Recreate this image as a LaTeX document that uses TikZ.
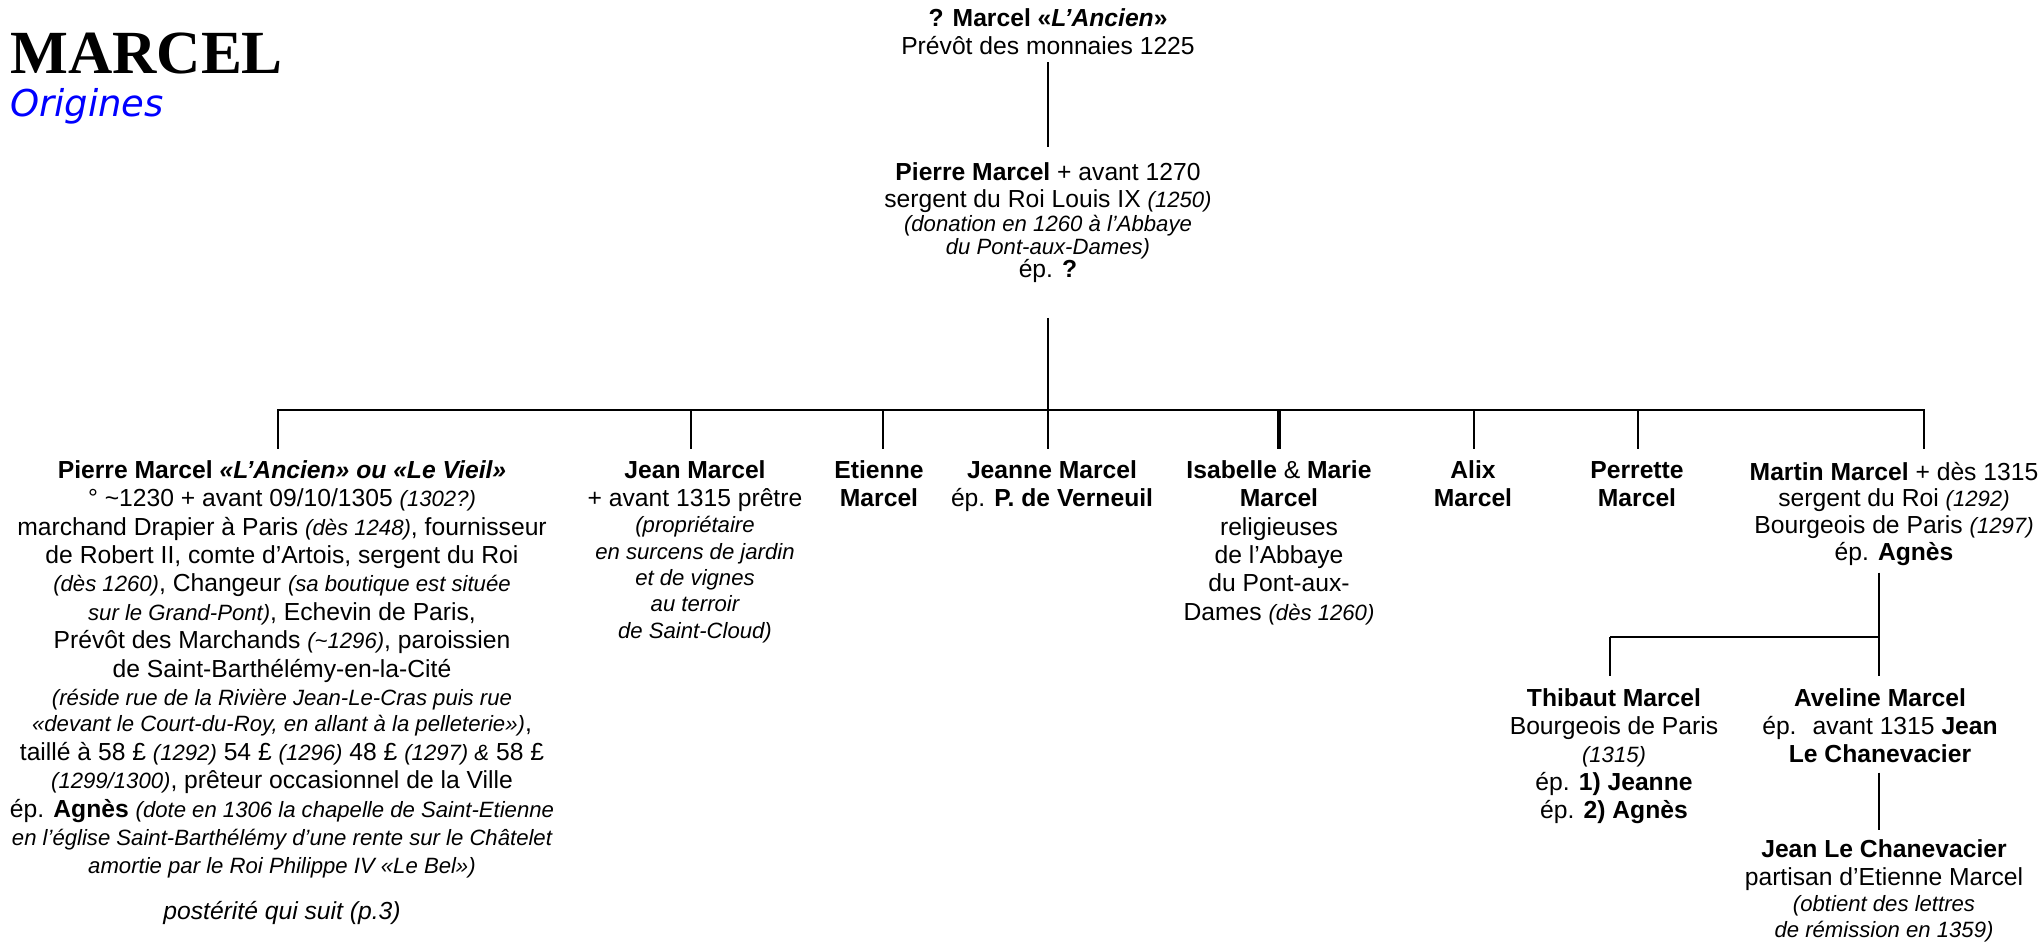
\documentclass[tikz,border=0pt]{standalone}
\usepackage{fontspec}
\setmainfont{Liberation Sans}
\newfontfamily\titlefont{Liberation Serif}
\newfontfamily\origfont{DejaVu Sans}
\newcommand\sm[1]{{\fontsize{16.6}{19}\selectfont\itshape #1}}
\newcommand\tst[1]{\vrule height #1 depth 0pt width 0pt\relax}
\newcommand\bst[1]{\vrule height 0pt depth #1 width 0pt\relax}
\newcommand\pfont{\fontsize{18.5}{21}\selectfont\lineskiplimit=-30pt\relax}
\tikzset{
  person/.style={anchor=north, inner sep=0pt, align=center, font=\pfont},
  bsk/.style={font={\pfont\baselineskip=#1\relax}},
  ln/.style={line width=1.85pt},
  mainbar/.style={line width=2.2pt, line cap=rect},
  thickln/.style={line width=2.8pt},
}
\begin{document}
\begin{tikzpicture}[x=0.75pt, y=-0.75pt]
\useasboundingbox (0,0) rectangle (2039,944);

% title
\node[anchor=base west, inner sep=0pt, font={\titlefont\bfseries\fontsize{46}{50}\selectfont}] (title) at (10,74) {MARCEL};
\node[anchor=base west, inner sep=0pt, text=blue, font={\origfont\itshape\fontsize{27.7}{30}\selectfont}] (sub) at (10,117) {Origines};

% generation 0
\node[person, bsk=21pt] (tn) at (1048,0) {\tst{20pt}\textbf{? Marcel «\textit{L’Ancien}»}\\
Prévôt des monnaies 1225\bst{5.25pt}};

% generation 1
\node[person, bsk=20.25pt] (pn) at (1048,147) {\tst{25pt}\textbf{Pierre Marcel} + avant 1270\\
sergent du Roi Louis IX \sm{(1250)}\\[-2.25pt]
\sm{(donation en 1260 à l’Abbaye}\\[-3pt]
\sm{du Pont-aux-Dames)}\\[-3pt]
ép. \textbf{?}\bst{30pt}};

% generation 2
\node[person, bsk=21.3pt] (lp) at (282,449) {\tst{21.75pt}\textbf{Pierre Marcel \textit{«L’Ancien» ou «Le Vieil»}}\\
° \textasciitilde1230 + avant 09/10/1305 \sm{(1302?)}\\
marchand Drapier à Paris \sm{(dès 1248)}, fournisseur\\
de Robert II, comte d’Artois, sergent du Roi\\
\sm{(dès 1260)}, Changeur \sm{(sa boutique est située}\\
\sm{sur le Grand-Pont)}, Echevin de Paris,\\
Prévôt des Marchands \sm{(\textasciitilde1296)}, paroissien\\
de Saint-Barthélémy-en-la-Cité\\
\sm{(réside rue de la Rivière Jean-Le-Cras puis rue}\\[-1.5pt]
\sm{«devant le Court-du-Roy, en allant à la pelleterie»)},\\
taillé à 58 £ \sm{(1292)} 54 £ \sm{(1296)} 48 £ \sm{(1297) \&} 58 £\\
\sm{(1299/1300)}, prêteur occasionnel de la Ville\\
ép. \textbf{Agnès} \sm{(dote en 1306 la chapelle de Saint-Etienne}\\
\sm{en l’église Saint-Barthélémy d’une rente sur le Châtelet}\\
\sm{amortie par le Roi Philippe IV «Le Bel»)}\\[13.2pt]
\textit{postérité qui suit (p.3)}};

\node[person, bsk=21pt] (jm) at (695,449) {\tst{21.75pt}\textbf{Jean Marcel}\\
+ avant 1315 prêtre\\[-1.2pt]
\sm{(propriétaire}\\[-1.2pt]
\sm{en surcens de jardin}\\[-1.2pt]
\sm{et de vignes}\\[-1.2pt]
\sm{au terroir}\\[-1.2pt]
\sm{de Saint-Cloud)}};

\node[person, bsk=21pt] (et) at (879,449) {\tst{21.75pt}\textbf{Etienne}\\\textbf{Marcel}};
\node[person, bsk=21pt] (je) at (1052,449) {\tst{21.75pt}\textbf{Jeanne Marcel}\\ép. \textbf{P. de Verneuil}};
\node[person, bsk=21.3pt] (is) at (1279,449) {\tst{21.75pt}\textbf{Isabelle} \& \textbf{Marie}\\
\textbf{Marcel}\\
religieuses\\
de l’Abbaye\\
du Pont-aux-\\
Dames \sm{(dès 1260)}};
\node[person, bsk=21pt] (al) at (1473,449) {\tst{21.75pt}\textbf{Alix}\\\textbf{Marcel}};
\node[person, bsk=21pt] (pe) at (1637,449) {\tst{21.75pt}\textbf{Perrette}\\\textbf{Marcel}};
\node[person, bsk=20pt] (mm) at (1894,449) {\tst{23.25pt}\textbf{Martin Marcel} + dès 1315\\
sergent du Roi \sm{(1292)}\\
Bourgeois de Paris \sm{(1297)}\\
ép. \textbf{Agnès}\bst{9pt}};

% generation 3
\node[person, bsk=21pt] (th) at (1614,676) {\tst{22.5pt}\textbf{Thibaut Marcel}\\
Bourgeois de Paris\\
\sm{(1315)}\\
ép. \textbf{1) Jeanne}\\
ép. \textbf{2) Agnès}};
\node[person, bsk=21pt] (av) at (1880,676) {\tst{22.5pt}\textbf{Aveline Marcel}\\
ép.~ avant 1315 \textbf{Jean}\\
\textbf{Le Chanevacier}\bst{7.5pt}};

% generation 4
\node[person, bsk=21pt] (jl) at (1884,830) {\tst{20.25pt}\textbf{Jean Le Chanevacier}\\
partisan d’Etienne Marcel\\[-1.5pt]
\sm{(obtient des lettres}\\[-1.5pt]
\sm{de rémission en 1359)}};

% connectors
\coordinate (hbL) at (278,410);
\coordinate (hbR) at (1924,410);
\coordinate (hbM) at (1048,410);
\draw[ln] (tn.south) -- (pn.north);
\draw[ln] (pn.south) -- (hbM);
\draw[mainbar] (hbL) -- (hbR);

\coordinate (dlp) at (278,410);
\coordinate (djm) at (691,410);
\coordinate (det) at (883,410);
\coordinate (dje) at (1048,410);
\coordinate (dis) at (1279,410);
\coordinate (dal) at (1474,410);
\coordinate (dpe) at (1638,410);
\coordinate (dmm) at (1924,410);
\draw[ln] (dlp) -- (dlp |- lp.north);
\draw[ln] (djm) -- (djm |- jm.north);
\draw[ln] (det) -- (det |- et.north);
\draw[ln] (dje) -- (dje |- je.north);
\draw[thickln] (dis) -- (dis |- is.north);
\draw[ln] (dal) -- (dal |- al.north);
\draw[ln] (dpe) -- (dpe |- pe.north);
\draw[ln] (dmm) -- (dmm |- mm.north);

\coordinate (sbL) at (1610,637);
\coordinate (sbR) at (1879,637);
\draw[ln] (sbR |- mm.south) -- (sbR);
\draw[ln] (sbL) -- (sbR);
\draw[ln] (sbL) -- (sbL |- th.north);
\draw[ln] (sbR) -- (sbR |- av.north);
\draw[ln] (sbR |- av.south) -- (sbR |- jl.north);
\end{tikzpicture}
\end{document}
